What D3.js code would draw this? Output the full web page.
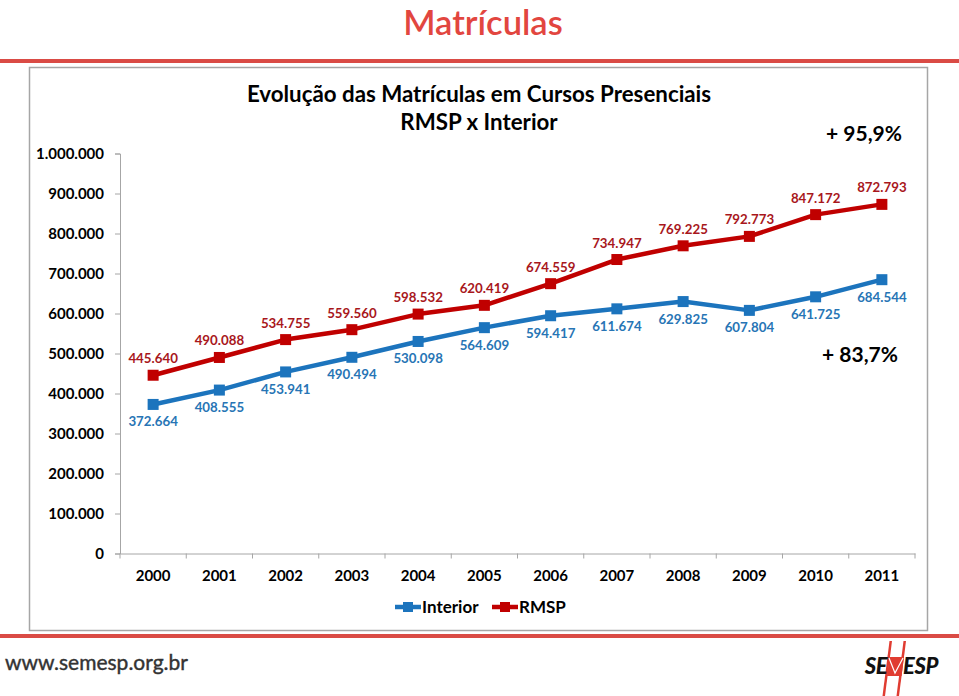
<!DOCTYPE html>
<html><head><meta charset="utf-8">
<script src="https://cdn.jsdelivr.net/npm/d3@7"></script>
<style>
html,body{margin:0;padding:0;background:#fff;}
svg{display:block;font-family:Lato,"Open Sans",sans-serif;}
</style></head>
<body><svg id="c" width="959" height="696"></svg>
<script>
const years = ["2000","2001","2002","2003","2004","2005","2006","2007","2008","2009","2010","2011"];
const interior = [372664,408555,453941,490494,530098,564609,594417,611674,629825,607804,641725,684544];
const rmsp = [445640,490088,534755,559560,598532,620419,674559,734947,769225,792773,847172,872793];
const yTicks = [0,100000,200000,300000,400000,500000,600000,700000,800000,900000,1000000];
const seriesNames = ["Interior","RMSP"];
const growthLabels = ["+ 95,9%","+ 83,7%"];

const svg = d3.select("#c");
const fmt = v => d3.format(",")(v).replace(/,/g,".");

// page title & red rules
svg.append("text").attr("x",483).attr("y",35).attr("text-anchor","middle")
  .attr("fill","#E2463F").attr("font-size",34.5).attr("font-weight",600).text("Matrículas");
svg.append("rect").attr("x",0).attr("y",59).attr("width",959).attr("height",4).attr("fill","#DA4B45");
svg.append("rect").attr("x",0).attr("y",634).attr("width",959).attr("height",4).attr("fill","#DA4B45");
// chart frame
svg.append("rect").attr("x",29.5).attr("y",67.5).attr("width",898).attr("height",563)
  .attr("fill","#fff").attr("stroke","#A6A6A6").attr("stroke-width",1.5);

// chart titles
svg.append("text").attr("x",479).attr("y",102).attr("text-anchor","middle")
  .attr("font-size",22.3).attr("font-weight",700).attr("fill","#000").text("Evolução das Matrículas em Cursos Presenciais");
svg.append("text").attr("x",479).attr("y",130).attr("text-anchor","middle")
  .attr("font-size",22.3).attr("font-weight",700).attr("fill","#000").text("RMSP x Interior");

const x = d3.scaleBand().domain(years).range([120,915]).paddingInner(0).paddingOuter(0);
const y = d3.scaleLinear().domain([0,1000000]).range([553.5,153.5]);
const cx = d => x(d)+x.bandwidth()/2;

// y axis
const gy = svg.append("g").attr("transform","translate(120,0)")
  .call(d3.axisLeft(y).tickValues(yTicks).tickSize(5).tickPadding(11).tickFormat(fmt));
gy.selectAll("path,line").attr("stroke","#A6A6A6");
gy.selectAll("text").attr("font-size",15).attr("font-weight",700).attr("fill","#000")
  .attr("font-family","Lato,sans-serif");

// x axis
const gx = svg.append("g").attr("transform",`translate(0,${y(0)})`)
  .call(d3.axisBottom(x).tickSize(0).tickPadding(17));
gx.selectAll("path").attr("stroke","#A6A6A6");
gx.selectAll("text").attr("font-size",15).attr("font-weight",700).attr("fill","#000")
  .attr("font-family","Lato,sans-serif");
const bounds = years.map(d=>x(d)).concat([x(years[years.length-1])+x.bandwidth()]);
svg.append("g").selectAll("line").data(bounds).join("line")
  .attr("x1",d=>d).attr("x2",d=>d).attr("y1",y(0)).attr("y2",y(0)+5).attr("stroke","#A6A6A6");

const series = [
  {name:seriesNames[0], values:interior, color:"#1C74BD", label:"#2775B5", dy:22},
  {name:seriesNames[1], values:rmsp, color:"#C00000", label:"#A8171C", dy:-12}
];
const line = d3.line().x((d,i)=>cx(years[i])).y(d=>y(d));
series.forEach(s=>{
  svg.append("path").datum(s.values).attr("d",line).attr("fill","none")
    .attr("stroke",s.color).attr("stroke-width",4.5).attr("stroke-linejoin","round");
  svg.append("g").selectAll("rect").data(s.values).join("rect")
    .attr("x",(d,i)=>cx(years[i])-5.5).attr("y",d=>y(d)-5.5).attr("width",11).attr("height",11).attr("fill",s.color);
  svg.append("g").selectAll("text").data(s.values).join("text")
    .attr("x",(d,i)=>cx(years[i])).attr("y",d=>y(d)+s.dy).attr("text-anchor","middle")
    .attr("font-size",13.3).attr("font-weight",700).attr("fill",s.label).text(d=>fmt(d));
});

// growth annotations
svg.append("text").attr("x",864).attr("y",141).attr("text-anchor","middle")
  .attr("font-size",21).attr("font-weight",700).attr("fill","#000").text(growthLabels[0]);
svg.append("text").attr("x",860).attr("y",362).attr("text-anchor","middle")
  .attr("font-size",21).attr("font-weight",700).attr("fill","#000").text(growthLabels[1]);

// legend
const lg = svg.append("g");
[[395,series[0]],[492,series[1]]].forEach(([lx,s])=>{
  lg.append("line").attr("x1",lx).attr("x2",lx+26).attr("y1",607).attr("y2",607)
    .attr("stroke",s.color).attr("stroke-width",4.5);
  lg.append("rect").attr("x",lx+13-5).attr("y",602).attr("width",10).attr("height",10).attr("fill",s.color);
  lg.append("text").attr("x",lx+27).attr("y",613).attr("font-size",17).attr("font-weight",700)
    .attr("fill","#000").text(s.name);
});

// footer
svg.append("text").attr("x",5).attr("y",670).attr("font-size",21).attr("fill","#333")
  .attr("stroke","#333").attr("stroke-width",0.4)
  .attr("font-family","Lato,sans-serif").text("www.semesp.org.br");

// logo
const logo = svg.append("g");
logo.append("path").attr("d","M889.5,641 L892,641 L885,696 L882.5,696 Z").attr("fill","#E03C31");
logo.append("path").attr("d","M903.5,641 L906,641 L899,696 L896.5,696 Z").attr("fill","#E03C31");
logo.append("path").attr("d","M889.5,657 L904,657 L901.5,676 L887,676 Z").attr("fill","#E03C31");
logo.append("path").attr("d","M889,658 L895,673 L903,658").attr("fill","none").attr("stroke","#fff").attr("stroke-width",1.2);
logo.append("text").attr("x",887).attr("y",674).attr("text-anchor","end").attr("font-size",22)
  .attr("font-weight",900).attr("font-style","italic").attr("fill","#111").attr("letter-spacing",-0.5).text("SE");
logo.append("text").attr("x",903).attr("y",674).attr("font-size",22)
  .attr("font-weight",900).attr("font-style","italic").attr("fill","#111").attr("letter-spacing",-0.3).text("ESP");
</script></body></html>
